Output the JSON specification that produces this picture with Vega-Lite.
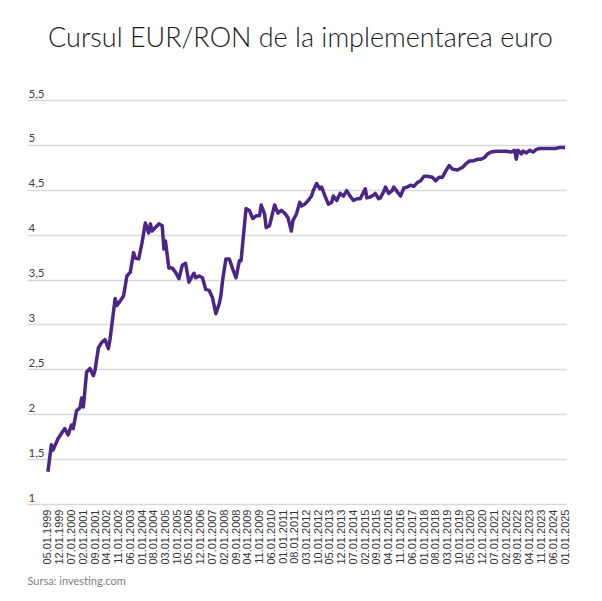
{
  "$schema": "https://vega.github.io/schema/vega-lite/v6.json",
  "width": 539,
  "height": 404,
  "autosize": {"type": "none"},
  "padding": {"left": 27, "top": 100, "right": 36, "bottom": 97},
  "background": "white",
  "title": {
    "text": "Cursul EUR/RON de la implementarea euro",
    "font": "Lato",
    "fontSize": 27,
    "fontWeight": 300,
    "color": "#1a1a1a",
    "frame": "group",
    "anchor": "middle",
    "baseline": "alphabetic",
    "dx": 4,
    "offset": 14
  },
  "data": {
    "values": [
      {"d": "1999-05-01", "v": 1.36},
      {"d": "1999-07-01", "v": 1.66},
      {"d": "1999-08-01", "v": 1.6},
      {"d": "1999-11-01", "v": 1.73},
      {"d": "2000-03-01", "v": 1.84},
      {"d": "2000-05-01", "v": 1.77},
      {"d": "2000-07-01", "v": 1.88},
      {"d": "2000-08-01", "v": 1.84},
      {"d": "2000-10-01", "v": 2.04},
      {"d": "2000-12-01", "v": 2.07},
      {"d": "2001-01-01", "v": 2.18},
      {"d": "2001-02-01", "v": 2.08},
      {"d": "2001-04-01", "v": 2.47},
      {"d": "2001-06-01", "v": 2.51},
      {"d": "2001-08-01", "v": 2.43},
      {"d": "2001-09-01", "v": 2.49},
      {"d": "2001-11-01", "v": 2.74},
      {"d": "2002-01-01", "v": 2.8},
      {"d": "2002-03-01", "v": 2.83},
      {"d": "2002-05-01", "v": 2.73},
      {"d": "2002-06-01", "v": 2.84},
      {"d": "2002-09-01", "v": 3.29},
      {"d": "2002-10-01", "v": 3.21},
      {"d": "2003-01-01", "v": 3.29},
      {"d": "2003-02-01", "v": 3.32},
      {"d": "2003-04-01", "v": 3.54},
      {"d": "2003-06-01", "v": 3.58},
      {"d": "2003-08-01", "v": 3.8},
      {"d": "2003-09-01", "v": 3.74},
      {"d": "2003-11-01", "v": 3.73},
      {"d": "2004-01-01", "v": 3.91},
      {"d": "2004-03-01", "v": 4.13},
      {"d": "2004-05-01", "v": 4.02},
      {"d": "2004-06-01", "v": 4.12},
      {"d": "2004-07-01", "v": 4.04},
      {"d": "2004-09-01", "v": 4.08},
      {"d": "2004-11-01", "v": 4.12},
      {"d": "2005-01-01", "v": 4.1},
      {"d": "2005-02-01", "v": 3.84},
      {"d": "2005-03-01", "v": 3.93},
      {"d": "2005-05-01", "v": 3.63},
      {"d": "2005-07-01", "v": 3.63},
      {"d": "2005-09-01", "v": 3.58},
      {"d": "2005-11-01", "v": 3.51},
      {"d": "2006-01-01", "v": 3.66},
      {"d": "2006-03-01", "v": 3.68},
      {"d": "2006-05-01", "v": 3.47},
      {"d": "2006-07-01", "v": 3.54},
      {"d": "2006-08-01", "v": 3.57},
      {"d": "2006-09-01", "v": 3.52},
      {"d": "2006-11-01", "v": 3.54},
      {"d": "2007-01-01", "v": 3.52},
      {"d": "2007-03-01", "v": 3.39},
      {"d": "2007-05-01", "v": 3.38},
      {"d": "2007-07-01", "v": 3.3},
      {"d": "2007-09-01", "v": 3.12},
      {"d": "2007-11-01", "v": 3.23},
      {"d": "2007-12-01", "v": 3.32},
      {"d": "2008-01-01", "v": 3.49},
      {"d": "2008-03-01", "v": 3.73},
      {"d": "2008-05-01", "v": 3.73},
      {"d": "2008-07-01", "v": 3.62},
      {"d": "2008-09-01", "v": 3.52},
      {"d": "2008-11-01", "v": 3.71},
      {"d": "2008-12-01", "v": 3.71},
      {"d": "2009-03-01", "v": 4.29},
      {"d": "2009-05-01", "v": 4.27},
      {"d": "2009-07-01", "v": 4.18},
      {"d": "2009-09-01", "v": 4.21},
      {"d": "2009-11-01", "v": 4.21},
      {"d": "2009-12-01", "v": 4.33},
      {"d": "2010-02-01", "v": 4.23},
      {"d": "2010-03-01", "v": 4.08},
      {"d": "2010-05-01", "v": 4.1},
      {"d": "2010-08-01", "v": 4.33},
      {"d": "2010-10-01", "v": 4.24},
      {"d": "2010-12-01", "v": 4.27},
      {"d": "2011-02-01", "v": 4.24},
      {"d": "2011-04-01", "v": 4.19},
      {"d": "2011-06-01", "v": 4.04},
      {"d": "2011-07-01", "v": 4.16},
      {"d": "2011-09-01", "v": 4.23},
      {"d": "2011-11-01", "v": 4.36},
      {"d": "2011-12-01", "v": 4.32},
      {"d": "2012-02-01", "v": 4.34},
      {"d": "2012-04-01", "v": 4.38},
      {"d": "2012-06-01", "v": 4.43},
      {"d": "2012-07-01", "v": 4.49},
      {"d": "2012-09-01", "v": 4.57},
      {"d": "2012-11-01", "v": 4.51},
      {"d": "2012-12-01", "v": 4.53},
      {"d": "2013-02-01", "v": 4.43},
      {"d": "2013-04-01", "v": 4.34},
      {"d": "2013-06-01", "v": 4.36},
      {"d": "2013-07-01", "v": 4.43},
      {"d": "2013-09-01", "v": 4.38},
      {"d": "2013-11-01", "v": 4.46},
      {"d": "2014-01-01", "v": 4.43},
      {"d": "2014-03-01", "v": 4.49},
      {"d": "2014-05-01", "v": 4.43},
      {"d": "2014-07-01", "v": 4.38},
      {"d": "2014-09-01", "v": 4.4},
      {"d": "2014-11-01", "v": 4.4},
      {"d": "2015-02-01", "v": 4.51},
      {"d": "2015-03-01", "v": 4.41},
      {"d": "2015-05-01", "v": 4.42},
      {"d": "2015-07-01", "v": 4.44},
      {"d": "2015-08-01", "v": 4.46},
      {"d": "2015-10-01", "v": 4.4},
      {"d": "2015-11-01", "v": 4.41},
      {"d": "2016-01-01", "v": 4.48},
      {"d": "2016-02-01", "v": 4.53},
      {"d": "2016-04-01", "v": 4.46},
      {"d": "2016-06-01", "v": 4.49},
      {"d": "2016-07-01", "v": 4.53},
      {"d": "2016-09-01", "v": 4.48},
      {"d": "2016-11-01", "v": 4.43},
      {"d": "2017-01-01", "v": 4.52},
      {"d": "2017-03-01", "v": 4.53},
      {"d": "2017-05-01", "v": 4.55},
      {"d": "2017-07-01", "v": 4.54},
      {"d": "2017-09-01", "v": 4.58},
      {"d": "2017-11-01", "v": 4.6},
      {"d": "2018-01-01", "v": 4.65},
      {"d": "2018-03-01", "v": 4.65},
      {"d": "2018-06-01", "v": 4.64},
      {"d": "2018-08-01", "v": 4.6},
      {"d": "2018-10-01", "v": 4.64},
      {"d": "2018-12-01", "v": 4.64},
      {"d": "2019-02-01", "v": 4.71},
      {"d": "2019-04-01", "v": 4.77},
      {"d": "2019-06-01", "v": 4.73},
      {"d": "2019-09-01", "v": 4.72},
      {"d": "2019-12-01", "v": 4.75},
      {"d": "2020-02-01", "v": 4.79},
      {"d": "2020-04-01", "v": 4.82},
      {"d": "2020-06-01", "v": 4.82},
      {"d": "2020-09-01", "v": 4.84},
      {"d": "2020-11-01", "v": 4.84},
      {"d": "2021-01-01", "v": 4.86},
      {"d": "2021-03-01", "v": 4.9},
      {"d": "2021-05-01", "v": 4.92},
      {"d": "2021-08-01", "v": 4.93},
      {"d": "2021-11-01", "v": 4.93},
      {"d": "2022-02-01", "v": 4.93},
      {"d": "2022-05-01", "v": 4.92},
      {"d": "2022-07-01", "v": 4.94},
      {"d": "2022-08-01", "v": 4.84},
      {"d": "2022-09-01", "v": 4.94},
      {"d": "2022-11-01", "v": 4.9},
      {"d": "2022-12-01", "v": 4.93},
      {"d": "2023-02-01", "v": 4.91},
      {"d": "2023-04-01", "v": 4.94},
      {"d": "2023-06-01", "v": 4.92},
      {"d": "2023-08-01", "v": 4.95},
      {"d": "2023-10-01", "v": 4.96},
      {"d": "2024-01-01", "v": 4.96},
      {"d": "2024-04-01", "v": 4.96},
      {"d": "2024-07-01", "v": 4.96},
      {"d": "2024-10-01", "v": 4.97},
      {"d": "2025-01-01", "v": 4.97}
    ]
  },
  "mark": {"type": "line", "color": "#4b2687", "strokeWidth": 3.5, "strokeJoin": "round"},
  "encoding": {
    "x": {
      "field": "d",
      "type": "temporal",
      "scale": {
        "type": "utc",
        "domain": [
          {"year": 1998, "month": 4, "date": 16, "utc": true},
          {"year": 2025, "month": 1, "date": 19, "utc": true}
        ]
      },
      "axis": {
        "values": [
          {"year": 1999, "month": 5, "date": 1, "utc": true},
          {"year": 1999, "month": 12, "date": 1, "utc": true},
          {"year": 2000, "month": 7, "date": 1, "utc": true},
          {"year": 2001, "month": 2, "date": 1, "utc": true},
          {"year": 2001, "month": 9, "date": 1, "utc": true},
          {"year": 2002, "month": 4, "date": 1, "utc": true},
          {"year": 2002, "month": 11, "date": 1, "utc": true},
          {"year": 2003, "month": 6, "date": 1, "utc": true},
          {"year": 2004, "month": 1, "date": 1, "utc": true},
          {"year": 2004, "month": 8, "date": 1, "utc": true},
          {"year": 2005, "month": 3, "date": 1, "utc": true},
          {"year": 2005, "month": 10, "date": 1, "utc": true},
          {"year": 2006, "month": 5, "date": 1, "utc": true},
          {"year": 2006, "month": 12, "date": 1, "utc": true},
          {"year": 2007, "month": 7, "date": 1, "utc": true},
          {"year": 2008, "month": 2, "date": 1, "utc": true},
          {"year": 2008, "month": 9, "date": 1, "utc": true},
          {"year": 2009, "month": 4, "date": 1, "utc": true},
          {"year": 2009, "month": 11, "date": 1, "utc": true},
          {"year": 2010, "month": 6, "date": 1, "utc": true},
          {"year": 2011, "month": 1, "date": 1, "utc": true},
          {"year": 2011, "month": 8, "date": 1, "utc": true},
          {"year": 2012, "month": 3, "date": 1, "utc": true},
          {"year": 2012, "month": 10, "date": 1, "utc": true},
          {"year": 2013, "month": 5, "date": 1, "utc": true},
          {"year": 2013, "month": 12, "date": 1, "utc": true},
          {"year": 2014, "month": 7, "date": 1, "utc": true},
          {"year": 2015, "month": 2, "date": 1, "utc": true},
          {"year": 2015, "month": 9, "date": 1, "utc": true},
          {"year": 2016, "month": 4, "date": 1, "utc": true},
          {"year": 2016, "month": 11, "date": 1, "utc": true},
          {"year": 2017, "month": 6, "date": 1, "utc": true},
          {"year": 2018, "month": 1, "date": 1, "utc": true},
          {"year": 2018, "month": 8, "date": 1, "utc": true},
          {"year": 2019, "month": 3, "date": 1, "utc": true},
          {"year": 2019, "month": 10, "date": 1, "utc": true},
          {"year": 2020, "month": 5, "date": 1, "utc": true},
          {"year": 2020, "month": 12, "date": 1, "utc": true},
          {"year": 2021, "month": 7, "date": 1, "utc": true},
          {"year": 2022, "month": 2, "date": 1, "utc": true},
          {"year": 2022, "month": 9, "date": 1, "utc": true},
          {"year": 2023, "month": 4, "date": 1, "utc": true},
          {"year": 2023, "month": 11, "date": 1, "utc": true},
          {"year": 2024, "month": 6, "date": 1, "utc": true},
          {"year": 2025, "month": 1, "date": 1, "utc": true}
        ],
        "format": "%m.%d.%Y",
        "labelAngle": 270,
        "labelFont": "Liberation Sans",
        "labelFontSize": 11,
        "labelColor": "#333333",
        "labelPadding": 5,
        "labelOverlap": false,
        "labelFlush": false,
        "labelBound": false,
        "domain": false,
        "ticks": false,
        "grid": false,
        "title": "Sursa: investing.com",
        "titleFont": "Lato",
        "titleFontSize": 11,
        "titleFontWeight": "normal",
        "titleColor": "#7f7f7f",
        "titleAnchor": "start",
        "titleAlign": "left",
        "titleBaseline": "alphabetic",
        "titleX": 0,
        "titleY": 80
      }
    },
    "y": {
      "field": "v",
      "type": "quantitative",
      "scale": {"domain": [1, 5.5], "nice": false, "zero": false},
      "axis": {
        "values": [1, 1.5, 2, 2.5, 3, 3.5, 4, 4.5, 5, 5.5],
        "labelExpr": "replace(format(datum.value, '~g'), '.', ',')",
        "labelAlign": "left",
        "labelBaseline": "alphabetic",
        "labelOffset": -3,
        "labelPadding": -1,
        "labelFont": "Lato",
        "labelFontSize": 11.5,
        "labelColor": "#404040",
        "ticks": false,
        "tickSize": 0,
        "domain": false,
        "grid": true,
        "gridColor": "#d9d9d9",
        "gridWidth": 1.5,
        "title": null
      }
    }
  },
  "config": {
    "view": {"stroke": "transparent"}
  }
}
